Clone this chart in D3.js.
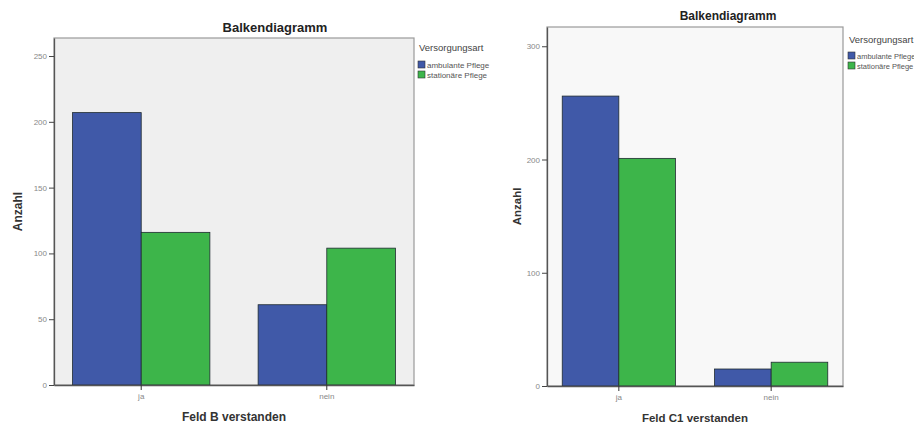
<!DOCTYPE html>
<html><head><meta charset="utf-8">
<script src="https://cdn.jsdelivr.net/npm/d3@7"></script>
<style>body{margin:0;background:#fff}svg{display:block}text{font-family:"Liberation Sans",Arial,sans-serif}</style>
</head><body>
<svg id="c" width="914" height="425"></svg>
<script>
const categories = ["ja", "nein"];
const seriesNames = ["ambulante Pflege", "stationäre Pflege"];
const chartTitle = "Balkendiagramm";
const legendTitle = "Versorgungsart";
const yTitle = "Anzahl";
// Chart 1: Feld B verstanden (values per category: ja, nein)
const xTitleB = "Feld B verstanden";
const ambulantB = [207, 61];
const stationaerB = [116, 104];
const ticksB = [0, 50, 100, 150, 200, 250];
// Chart 2: Feld C1 verstanden
const xTitleC1 = "Feld C1 verstanden";
const ambulantC1 = [256, 15];
const stationaerC1 = [201, 21];
const ticksC1 = [0, 100, 200, 300];
const colors = ["#4059a8", "#3db54a"];

const svg = d3.select("#c");

function draw(cfg){
  const g = svg.append("g");
  const {x0,x1,y0,y1} = cfg.box;
  const y = d3.scaleLinear().domain([0, cfg.ymax]).range([y1, y0]);
  const x = d3.scaleBand().domain(categories).range([x0, x1]).paddingInner(cfg.pin).paddingOuter(cfg.pout);
  const xs = d3.scaleBand().domain(seriesNames).range([0, x.bandwidth()]);
  g.append("rect").attr("x",x0).attr("y",y0).attr("width",x1-x0).attr("height",y1-y0)
    .attr("fill",cfg.bg).attr("stroke","#9a9a9a").attr("stroke-width",1.2);
  const vals = [cfg.s1, cfg.s2];
  seriesNames.forEach((s,si)=>{
    g.selectAll(null).data(categories).enter().append("rect")
      .attr("x",(c)=>x(c)+xs(s)).attr("width",xs.bandwidth())
      .attr("y",(c,i)=>y(vals[si][i])).attr("height",(c,i)=>y(0)-y(vals[si][i]))
      .attr("fill",colors[si]).attr("stroke","#1e2a30").attr("stroke-width",0.8);
  });
  const ya = g.append("g").attr("transform",`translate(${x0},0)`)
    .call(d3.axisLeft(y).tickValues(cfg.ticks).tickSize(5).tickPadding(2).tickSizeOuter(0));
  ya.select(".domain").attr("stroke","#555").attr("stroke-width",1.3);
  ya.selectAll(".tick line").attr("stroke","#444");
  ya.selectAll("text").attr("font-size",8).attr("fill","#888");
  const xa = g.append("g").attr("transform",`translate(0,${y1})`)
    .call(d3.axisBottom(x).tickSize(5).tickPadding(3).tickSizeOuter(0));
  xa.select(".domain").attr("stroke","#555").attr("stroke-width",1.3);
  xa.selectAll(".tick line").attr("stroke","#333");
  xa.selectAll("text").attr("font-size",8).attr("fill","#888");
  g.append("text").attr("x",cfg.titleX).attr("y",cfg.titleY).attr("text-anchor","middle")
    .attr("font-weight","bold").attr("font-size",cfg.titleSize).attr("fill","#222").text(chartTitle);
  g.append("text").attr("x",(x0+x1)/2).attr("y",cfg.xtY).attr("text-anchor","middle")
    .attr("font-weight","bold").attr("font-size",cfg.axSize).attr("fill","#333").text(cfg.xTitle);
  g.append("text").attr("transform",`translate(${cfg.ytX},${(y0+y1)/2}) rotate(-90)`).attr("text-anchor","middle")
    .attr("font-weight","bold").attr("font-size",cfg.axSize).attr("fill","#333").text(yTitle);
  const lx = cfg.legX, ly = cfg.legY;
  g.append("text").attr("x",lx).attr("y",ly).attr("font-size",cfg.legTitleSize).attr("fill","#444").text(legendTitle);
  seriesNames.forEach((s,i)=>{
    g.append("rect").attr("x",lx-1).attr("y",ly+cfg.legGap+i*cfg.legStep).attr("width",7).attr("height",7)
      .attr("fill",colors[i]).attr("stroke","#333").attr("stroke-width",0.6);
    g.append("text").attr("x",lx+8).attr("y",ly+cfg.legGap+i*cfg.legStep+6.5).attr("font-size",cfg.legSize)
      .attr("fill","#555").text(s);
  });
}

draw({box:{x0:54,x1:414,y0:38,y1:385}, ymax:263.7, ticks:ticksB, s1:ambulantB, s2:stationaerB,
  pin:0.26, pout:0.1, bg:"#efefef", xTitle:xTitleB, titleX:275, titleY:32, titleSize:13, axSize:12,
  xtY:421, ytX:22, legX:419, legY:51, legGap:10, legStep:10, legTitleSize:9.5, legSize:8});
draw({box:{x0:547,x1:843,y0:27,y1:386}, ymax:317, ticks:ticksC1, s1:ambulantC1, s2:stationaerC1,
  pin:0.257, pout:0.1, bg:"#f8f8f8", xTitle:xTitleC1, titleX:728, titleY:20, titleSize:12, axSize:11.5,
  xtY:422, ytX:521, legX:849, legY:43, legGap:9, legStep:10, legTitleSize:9.5, legSize:7.5});
</script>
</body></html>
